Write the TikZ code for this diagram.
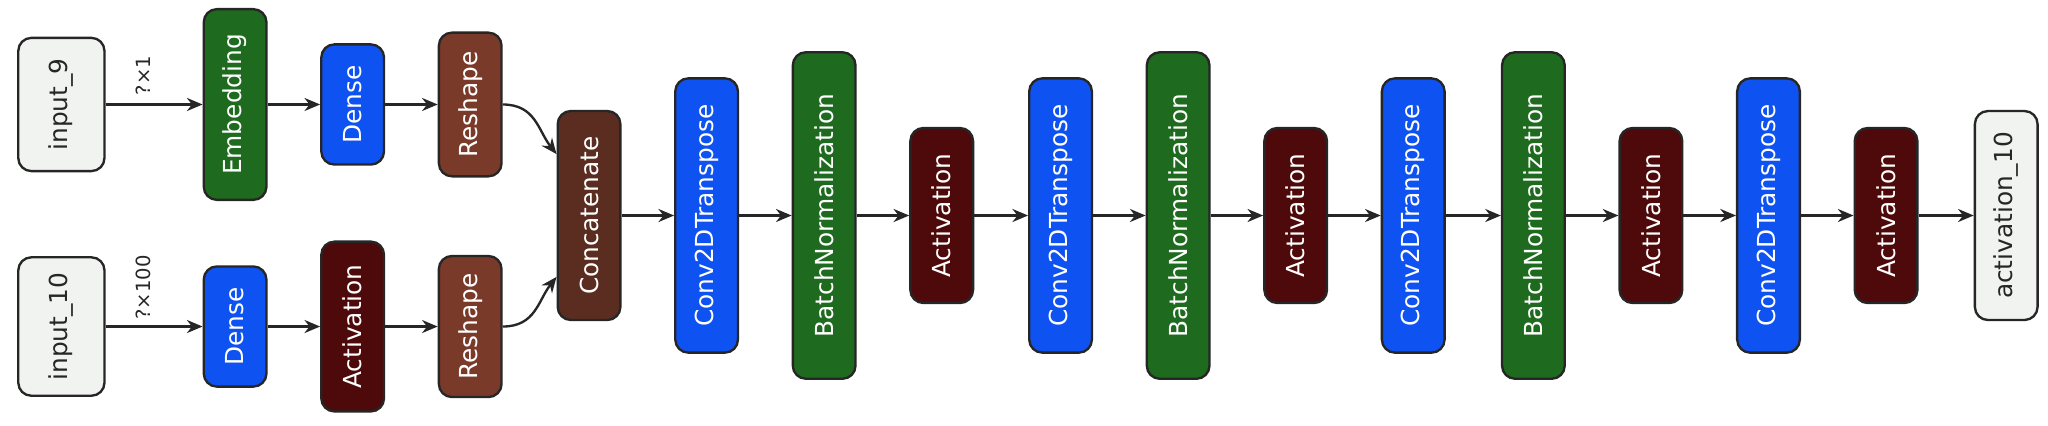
\documentclass[tikz,border=0pt]{standalone}
\usepackage{fontspec}
\setmainfont{DejaVu Sans}
\usetikzlibrary{arrows.meta}
\definecolor{cin}{HTML}{F1F3F1}
\definecolor{cgreen}{HTML}{1E6A1E}
\definecolor{cblue}{HTML}{0F52F2}
\definecolor{cresh}{HTML}{7A3A29}
\definecolor{ccat}{HTML}{5B2D21}
\definecolor{cact}{HTML}{4E0A0A}
\begin{document}
\begin{tikzpicture}[x=0.5pt,y=-0.5pt,
  lay/.style={draw=black!85,line width=0.9pt,rounded corners=5pt,rotate=90,minimum height=24pt,inner sep=1pt,font=\fontsize{9.5}{11}\selectfont,text=white},
  inbox/.style={lay,fill=cin,text=black!85,minimum height=33pt},
  grn/.style={lay,fill=cgreen},
  blu/.style={lay,fill=cblue},
  rsh/.style={lay,fill=cresh},
  cat/.style={lay,fill=ccat},
  act/.style={lay,fill=cact},
  conn/.style={draw=black!85,line width=0.9pt,-{Stealth[length=6pt,width=5pt]}},
  lbl/.style={rotate=90,font=\fontsize{7.5}{8}\selectfont,text=black!85}]
\useasboundingbox (0,0) rectangle (1568,326);
\node[inbox,minimum width=51pt] (in9) at (47,80) {input\_9};
\node[grn,minimum width=73pt] (emb) at (180,80) {Embedding};
\node[blu,minimum width=46pt] (d1) at (270,80) {Dense};
\node[rsh,minimum width=55pt] (r1) at (360,80) {Reshape};
\node[inbox,minimum width=53pt] (in10) at (47,250) {input\_10};
\node[blu,minimum width=46pt] (d2) at (180,250) {Dense};
\node[act,minimum width=65pt] (a1) at (270,250) {Activation};
\node[rsh,minimum width=54pt] (r2) at (360,250) {Reshape};
\node[cat,minimum width=80pt] (cat) at (451,165) {Concatenate};
\node[blu,minimum width=105pt] (c1) at (541,165) {Conv2DTranspose};
\node[grn,minimum width=125pt] (b1) at (631,165) {BatchNormalization};
\node[act,minimum width=67pt] (a2) at (721,165) {Activation};
\node[blu,minimum width=105pt] (c2) at (812,165) {Conv2DTranspose};
\node[grn,minimum width=125pt] (b2) at (902,165) {BatchNormalization};
\node[act,minimum width=67pt] (a3) at (992,165) {Activation};
\node[blu,minimum width=105pt] (c3) at (1082,165) {Conv2DTranspose};
\node[grn,minimum width=125pt] (b3) at (1174,165) {BatchNormalization};
\node[act,minimum width=67pt] (a4) at (1264,165) {Activation};
\node[blu,minimum width=105pt] (c4) at (1354,165) {Conv2DTranspose};
\node[act,minimum width=67pt] (a5) at (1444,165) {Activation};
\node[inbox,minimum width=80pt,minimum height=24pt] (out) at (1536,165) {activation\_10};
\draw[conn] (in9.south) -- (emb.north);
\node[lbl] (l1) at (110,58) {?×1};
\draw[conn] (in10.south) -- (d2.north);
\node[lbl] (l2) at (110,220) {?×100};
\draw[conn] (emb.south) -- (d1.north);
\draw[conn] (d1.south) -- (r1.north);
\draw[conn] (d2.south) -- (a1.north);
\draw[conn] (a1.south) -- (r2.north);
\draw[conn] (r1.south) .. controls (410,80) and (412,100) .. (cat.north|-0,118);
\draw[conn] (r2.south) .. controls (410,250) and (412,230) .. (cat.north|-0,212);
\draw[conn] (cat.south) -- (c1.north);
\draw[conn] (c1.south) -- (b1.north);
\draw[conn] (b1.south) -- (a2.north);
\draw[conn] (a2.south) -- (c2.north);
\draw[conn] (c2.south) -- (b2.north);
\draw[conn] (b2.south) -- (a3.north);
\draw[conn] (a3.south) -- (c3.north);
\draw[conn] (c3.south) -- (b3.north);
\draw[conn] (b3.south) -- (a4.north);
\draw[conn] (a4.south) -- (c4.north);
\draw[conn] (c4.south) -- (a5.north);
\draw[conn] (a5.south) -- (out.north);
\end{tikzpicture}
\end{document}
